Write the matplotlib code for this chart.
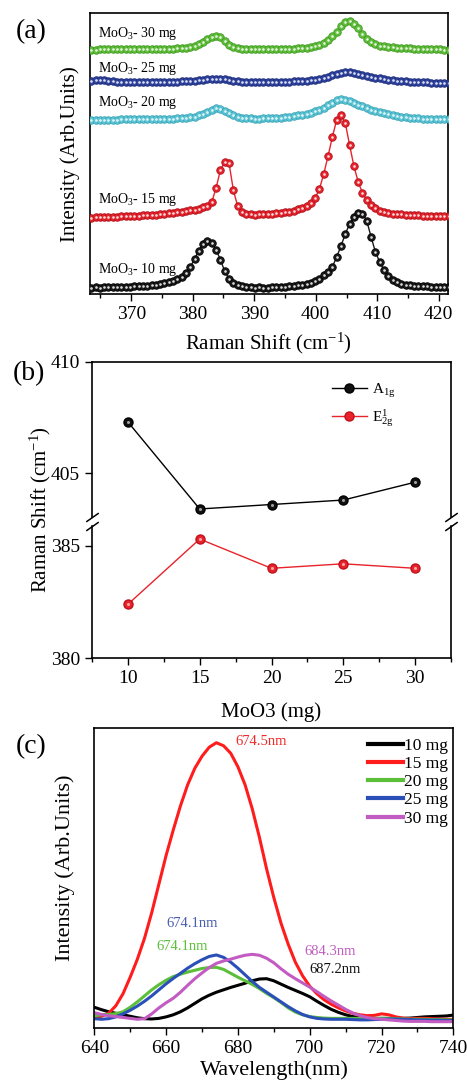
import numpy as np
import matplotlib
matplotlib.use("Agg")
import matplotlib.pyplot as plt
from matplotlib.ticker import MultipleLocator, NullLocator

plt.rcParams['font.family'] = ['Liberation Serif', 'DejaVu Serif']
plt.rcParams['mathtext.fontset'] = 'custom'
plt.rcParams['mathtext.rm'] = 'Liberation Serif'
plt.rcParams['mathtext.it'] = 'Liberation Serif:italic'
plt.rcParams['mathtext.bf'] = 'Liberation Serif:bold'

# ---------------- (a) Raman spectra ----------------
raman_start, raman_step = 363.5, 0.7   # instrument sampling grid (cm^-1)

raman_10mg = [
    6.5, 6.6, 6.5, 6.7, 6.8, 6.8, 7.0, 7.0, 7.1, 7.3,
    7.6, 7.8, 8.0, 8.5, 8.9, 9.5, 10.2, 11.0, 11.8, 13.0,
    15.0, 17.5, 21.0, 27.0, 35.0, 43.5, 50.5, 53.0, 51.0, 44.5,
    34.0, 23.0, 15.5, 11.5, 9.5, 8.5, 7.5, 6.8, 6.5, 6.6,
    6.4, 6.5, 6.7, 6.8, 7.0, 7.2, 7.6, 8.0, 8.6, 9.3,
    10.0, 11.0, 13.0, 15.0, 19.0, 22.5, 27.0, 37.0, 48.0, 60.0,
    70.0, 77.0, 81.0, 80.5, 73.0, 57.0, 42.0, 32.0, 24.0, 18.0,
    14.5, 12.0, 10.5, 9.5, 8.8, 8.3, 8.0, 7.8, 7.6, 7.3,
    7.2, 7.0, 7.0, 6.9]
raman_15mg = [
    76.5, 76.8, 77.0, 77.0, 77.3, 77.5, 77.4, 77.8, 78.0, 78.0,
    78.4, 78.5, 78.7, 79.0, 79.3, 79.5, 80.0, 80.5, 81.0, 81.4,
    81.8, 82.4, 83.0, 83.6, 84.5, 85.5, 87.0, 88.0, 92.0, 106.0,
    124.0, 132.0, 131.0, 104.0, 88.0, 82.5, 80.5, 80.0, 79.5, 79.8,
    80.0, 80.3, 80.5, 80.8, 81.2, 81.8, 82.5, 83.5, 84.8, 86.5,
    88.5, 91.5, 96.0, 105.0, 120.0, 138.0, 157.0, 174.0, 179.0, 171.0,
    149.0, 128.0, 112.0, 101.0, 94.0, 89.0, 86.0, 83.5, 82.0, 81.0,
    80.5, 80.0, 79.6, 79.3, 79.0, 78.8, 78.6, 78.4, 78.2, 78.0,
    78.0, 77.9, 77.8, 77.8]
raman_20mg = [
    174.0, 174.2, 174.3, 174.2, 174.4, 174.5, 174.5, 174.6, 174.6, 174.7,
    174.8, 174.8, 174.9, 175.0, 175.0, 175.1, 175.2, 175.3, 175.4, 175.5,
    175.7, 176.0, 176.3, 176.8, 177.5, 178.6, 180.0, 181.8, 184.2, 185.7,
    185.0, 183.0, 181.0, 179.0, 177.3, 176.3, 175.8, 175.6, 175.5, 175.5,
    175.6, 175.7, 175.9, 176.1, 176.4, 176.8, 177.3, 177.9, 178.6, 179.4,
    180.4, 181.5, 182.8, 184.4, 186.3, 188.6, 191.2, 193.6, 195.0, 194.3,
    192.6, 190.8, 189.2, 187.6, 186.0, 184.5, 183.1, 181.8, 180.6, 179.6,
    178.7, 178.0, 177.4, 176.9, 176.5, 176.1, 175.8, 175.5, 175.3, 175.1,
    175.0, 174.8, 174.7, 174.6]
raman_25mg = [
    213.3, 213.8, 214.0, 213.6, 213.0, 212.6, 212.4, 212.3, 212.2, 212.2,
    212.1, 212.2, 212.0, 212.1, 212.2, 212.1, 212.2, 212.3, 212.2, 212.4,
    212.5, 212.6, 212.8, 213.0, 213.4, 213.8, 214.3, 214.8, 215.2, 215.4,
    215.2, 214.6, 213.9, 213.3, 212.8, 212.5, 212.3, 212.2, 212.1, 212.1,
    212.0, 212.1, 212.1, 212.2, 212.2, 212.3, 212.4, 212.6, 212.8, 213.1,
    213.4, 213.9, 214.5, 215.3, 216.3, 217.5, 218.9, 220.2, 221.4, 222.2,
    222.0, 221.3, 220.4, 219.4, 218.4, 217.4, 216.5, 215.7, 215.0, 214.4,
    213.9, 213.5, 213.1, 212.8, 212.5, 212.3, 212.1, 211.9, 211.7, 211.5,
    211.3, 211.1, 211.0, 210.9]
raman_30mg = [
    244.5, 244.5, 244.6, 244.6, 244.7, 244.7, 244.8, 244.8, 244.8, 244.9,
    244.9, 245.0, 245.0, 245.1, 245.1, 245.2, 245.2, 245.3, 245.4, 245.5,
    245.7, 246.0, 246.5, 247.3, 248.5, 250.2, 252.4, 254.8, 257.0, 258.3,
    257.0, 253.5, 249.5, 247.0, 245.9, 245.3, 245.0, 244.9, 244.8, 244.8,
    244.8, 244.8, 244.9, 244.9, 245.0, 245.1, 245.2, 245.4, 245.6, 245.9,
    246.3, 246.9, 247.8, 249.2, 251.2, 254.0, 257.6, 262.5, 268.0, 272.0,
    273.0, 270.5, 266.0, 260.5, 255.5, 252.0, 249.8, 248.5, 247.6, 247.0,
    246.6, 246.3, 246.0, 245.8, 245.6, 245.4, 245.3, 245.1, 245.0, 244.9,
    244.7, 244.6, 244.5, 244.4]

raman_series = [raman_10mg, raman_15mg, raman_20mg, raman_25mg, raman_30mg]
raman_names = [r'MoO$_3$- 10 mg', r'MoO$_3$- 15 mg', r'MoO$_3$- 20 mg',
               r'MoO$_3$- 25 mg', r'MoO$_3$- 30 mg']
raman_colors = ['#1a1a1a', '#e8232b', '#5cc6d6', '#2f43a0', '#62bf3c']
raman_edges = ['#000000', '#b0101a', '#3aa4b6', '#1d2c78', '#3f9a22']
raman_label_y = [24.7, 95.0, 191.3, 225.7, 261.0]

# ---------------- (b) peak positions ----------------
mass_mg = [10, 15, 20, 25, 30]
a1g_peak = [407.3, 403.4, 403.6, 403.8, 404.6]
e2g_peak = [382.4, 385.3, 384.0, 384.2, 384.0]

# ---------------- (c) PL spectra ----------------
pl_wavelength = list(range(640, 741, 2))
pl_10mg = [
    7.0, 6.2, 5.5, 5.0, 4.5, 4.0, 3.5, 3.2, 3.1, 3.3,
    3.8, 4.5, 5.5, 6.8, 8.3, 9.8, 11.0, 12.0, 12.8, 13.6,
    14.3, 15.0, 15.8, 16.4, 16.5, 15.8, 14.7, 13.6, 12.6, 11.6,
    10.5, 9.0, 7.6, 6.3, 5.3, 4.5, 3.9, 3.5, 3.3, 3.3,
    3.3, 3.3, 3.3, 3.3, 3.4, 3.6, 3.8, 3.9, 4.0, 4.1, 4.4]
pl_15mg = [
    3.5, 4.0, 5.0, 7.5, 11.5, 17.0, 23.0, 30.0, 38.5, 48.0,
    57.5, 66.0, 74.0, 81.0, 86.5, 90.5, 93.5, 95.0, 94.0, 91.5,
    87.0, 81.0, 73.0, 63.5, 53.0, 43.5, 35.0, 28.0, 22.0, 17.5,
    14.0, 11.5, 9.5, 8.0, 6.8, 5.8, 5.0, 4.5, 4.2, 4.3,
    4.8, 4.5, 3.8, 3.4, 3.2, 3.3, 3.3, 3.2, 3.1, 3.0, 3.0]
pl_20mg = [
    4.2, 4.5, 4.6, 4.9, 5.5, 7.0, 8.8, 10.8, 12.8, 14.5,
    16.0, 17.2, 18.0, 18.7, 19.3, 19.9, 20.2, 20.3, 19.6, 18.3,
    17.0, 15.8, 14.6, 13.2, 11.6, 10.2, 8.6, 6.8, 5.4, 4.5,
    3.9, 3.6, 3.4, 3.3, 3.3, 3.3, 3.3, 3.3, 3.3, 3.3,
    3.3, 3.3, 3.2, 3.1, 3.0, 3.0, 3.0, 2.9, 2.9, 2.8, 2.8]
pl_25mg = [
    3.2, 3.0, 3.2, 3.8, 4.8, 6.0, 7.4, 9.0, 10.8, 12.8,
    14.8, 16.6, 18.3, 20.0, 21.5, 22.8, 23.9, 24.4, 23.6, 22.0,
    20.0, 17.8, 15.6, 13.6, 12.0, 10.4, 8.8, 7.2, 5.8, 4.6,
    3.8, 3.3, 3.1, 3.0, 3.0, 3.0, 2.9, 2.8, 2.8, 2.9,
    3.0, 3.1, 3.1, 3.0, 2.9, 2.8, 2.8, 2.7, 2.7, 2.6, 2.6]
pl_30mg = [
    5.2, 4.6, 4.2, 3.9, 3.6, 3.3, 3.0, 3.2, 4.8, 6.8,
    8.5, 10.0, 12.0, 14.3, 16.5, 18.4, 20.2, 21.6, 22.4, 23.0,
    23.7, 24.3, 24.6, 24.3, 23.3, 21.8, 19.8, 18.0, 16.5, 15.1,
    13.7, 12.2, 10.6, 9.1, 7.7, 6.3, 5.1, 4.2, 3.6, 3.2,
    3.0, 2.8, 2.6, 2.4, 2.3, 2.3, 2.3, 2.2, 2.2, 2.2, 2.2]
pl_series = [pl_10mg, pl_15mg, pl_20mg, pl_25mg, pl_30mg]
pl_names = ['10 mg', '15 mg', '20 mg', '25 mg', '30 mg']
pl_colors = ['#000000', '#ff1c1c', '#5cbf3a', '#2b4fb8', '#c25bc2']
pl_peak_text = ['687.2nm', '674.5nm', '674.1nm', '674.1nm', '684.3nm']
pl_text_colors = ['#111111', '#ee2a2a', '#5cbf3a', '#4a5eb0', '#c05ec0']
pl_text_pos = [(700.0, 19.4), (679.4, 95.5), (657.2, 27.1), (660.2, 34.7), (698.5, 25.7)]

W, H = 467, 1084
fig = plt.figure(figsize=(W / 100, H / 100), dpi=100)


def rect(left, top, right, bottom):
    return [left / W, 1 - bottom / H, (right - left) / W, (bottom - top) / H]


def style_axes(ax):
    for s in ax.spines.values():
        s.set_linewidth(1.2)
    ax.tick_params(which='both', direction='out', labelsize=14, width=1.0,
                   top=False, right=False)
    ax.tick_params(which='major', length=5)
    ax.tick_params(which='minor', length=3)


# ---- panel (a)
ax_a = fig.add_axes(rect(90, 13, 448, 294))
style_axes(ax_a)
raman_x = raman_start + raman_step * np.arange(len(raman_10mg))
for ys, c, ec in zip(raman_series, raman_colors, raman_edges):
    ax_a.plot(raman_x, ys, '-', color=c, lw=1.0, zorder=2)
    ax_a.plot(raman_x, ys, 'o', ms=5.4, mfc=c, mec=ec, mew=0.6, zorder=3)
    ax_a.plot(raman_x, ys, 'o', ms=1.9, mfc='white', mec='none', alpha=0.85, zorder=4)
for name, yl in zip(raman_names, raman_label_y):
    ax_a.text(364.6, yl, name, fontsize=10, ha='left', va='center')
ax_a.set_xlim(363.3, 421.5)
ax_a.set_ylim(0, 281)
ax_a.xaxis.set_major_locator(MultipleLocator(10))
ax_a.xaxis.set_minor_locator(MultipleLocator(5))
ax_a.yaxis.set_major_locator(NullLocator())
fig.text(268 / W, 1 - 343 / H, r'Raman Shift (cm$^{-1}$)', fontsize=15, ha='center', va='center')
fig.text(70 / W, 1 - 154 / H, 'Intensity (Arb.Units)', fontsize=15, rotation=90,
         ha='center', va='center')
fig.text(31 / W, 1 - 32 / H, '(a)', fontsize=20, ha='center', va='center')

# ---- panel (b): broken y axis
ax_bt = fig.add_axes(rect(92, 361.7, 451, 517))
ax_bb = fig.add_axes(rect(92, 526, 451, 658.3))
for ax in (ax_bt, ax_bb):
    style_axes(ax)
    ax.set_xlim(7.5, 32.5)
ax_bt.set_ylim(403.04, 410)
ax_bb.set_ylim(380, 385.88)
ax_bt.set_yticks([405, 410])
ax_bb.set_yticks([380, 385])
ax_bt.spines['bottom'].set_visible(False)
ax_bb.spines['top'].set_visible(False)
ax_bt.tick_params(axis='x', which='both', bottom=False, labelbottom=False)
ax_bb.xaxis.set_major_locator(MultipleLocator(5))
ax_bb.xaxis.set_minor_locator(MultipleLocator(2.5))

ax_bt.plot(mass_mg, a1g_peak, '-', color='black', lw=1.0, marker='o', ms=6.5,
           mfc='#111111', mec='black')
ax_bb.plot(mass_mg, e2g_peak, '-', color='#e8232b', lw=1.0, marker='o', ms=6.5,
           mfc='#e8232b', mec='#c0101a')
for ax, vals in ((ax_bt, a1g_peak), (ax_bb, e2g_peak)):
    ax.plot(mass_mg, vals, 'o', ms=2.2, mfc='white', mec='none', alpha=0.6)

# legend for both series in the upper axes
h1, = ax_bt.plot([], [], '-', color='black', lw=1.0, marker='o', ms=6.5, mfc='#111111', mec='black')
h2, = ax_bt.plot([], [], '-', color='#e8232b', lw=1.0, marker='o', ms=6.5, mfc='#e8232b', mec='#c0101a')
ax_bt.legend([h1, h2], [r'A$_{\mathrm{1g}}$', r'E$^{\mathrm{1}}_{\mathrm{2g}}$'], loc='upper left',
             bbox_to_anchor=(0.668, 0.87), frameon=False, fontsize=11,
             handlelength=2.3, handletextpad=0.3, labelspacing=0.5,
             borderpad=0, borderaxespad=0)

# break marks on both side spines
slash = [(-1, -0.7), (1, 0.7)]
kw = dict(marker=slash, markersize=9, linestyle='none', color='k', mec='k',
          mew=1.1, clip_on=False)
ax_bt.plot([0, 1], [0, 0], transform=ax_bt.transAxes, **kw)
ax_bb.plot([0, 1], [1, 1], transform=ax_bb.transAxes, **kw)

fig.text(271 / W, 1 - 712 / H, 'MoO3 (mg)', fontsize=15, ha='center', va='center')
fig.text(40 / W, 1 - 510 / H, r'Raman Shift (cm$^{-1}$)', fontsize=15, rotation=90,
         ha='center', va='center')
fig.text(29 / W, 1 - 374 / H, '(b)', fontsize=20, ha='center', va='center')

# ---- panel (c)
ax_c = fig.add_axes(rect(94.3, 727.7, 453.3, 1028.3))
style_axes(ax_c)
for ys, c, nm in zip(pl_series, pl_colors, pl_names):
    ax_c.plot(pl_wavelength, ys, '-', color=c, lw=2.2, label=nm,
              solid_joinstyle='round')
for txt, tc, (tx, ty) in zip(pl_peak_text, pl_text_colors, pl_text_pos):
    ax_c.text(tx, ty, txt, color=tc, fontsize=10.5, ha='left', va='center')
ax_c.set_xlim(640, 740)
ax_c.set_ylim(0, 100)
ax_c.xaxis.set_major_locator(MultipleLocator(20))
ax_c.xaxis.set_minor_locator(MultipleLocator(10))
ax_c.yaxis.set_major_locator(NullLocator())
leg = ax_c.legend(loc='upper left', bbox_to_anchor=(0.762, 0.967), frameon=False,
                  fontsize=12.5, handlelength=2.0, handletextpad=0.1, labelspacing=0.12,
                  borderpad=0, borderaxespad=0)
for ln in leg.get_lines():
    ln.set_linewidth(3.0)
fig.text(274 / W, 1 - 1070 / H, 'Wavelength(nm)', fontsize=16, ha='center', va='center')
fig.text(65 / W, 1 - 868 / H, 'Intensity (Arb.Units)', fontsize=16, rotation=90,
         ha='center', va='center')
fig.text(31 / W, 1 - 747 / H, '(c)', fontsize=20, ha='center', va='center')

fig.savefig('out.png', dpi=100)
